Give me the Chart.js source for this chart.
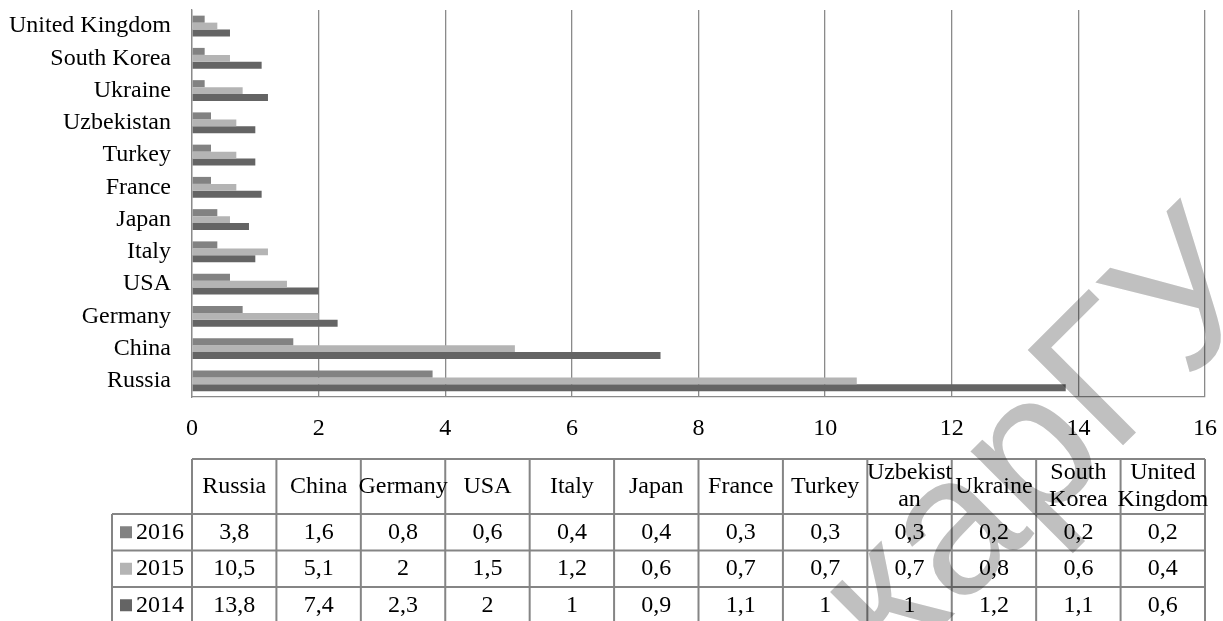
<!DOCTYPE html>
<html>
<head>
<meta charset="utf-8">
<script src="https://cdn.jsdelivr.net/npm/chart.js@4.4.0/dist/chart.umd.min.js"></script>
<style>
  html, body { margin: 0; padding: 0; background: #fff; }
  #wrap { width: 1223px; height: 621px; }
</style>
</head>
<body>
<div id="wrap"><canvas id="myChart"></canvas></div>
<script>
// data
const countries = ["Russia", "China", "Germany", "USA", "Italy", "Japan", "France", "Turkey", "Uzbekistan", "Ukraine", "South Korea", "United Kingdom"];
const years = ["2016", "2015", "2014"];
const values2016 = [3.8, 1.6, 0.8, 0.6, 0.4, 0.4, 0.3, 0.3, 0.3, 0.2, 0.2, 0.2];
const values2015 = [10.5, 5.1, 2, 1.5, 1.2, 0.6, 0.7, 0.7, 0.7, 0.8, 0.6, 0.4];
const values2014 = [13.8, 7.4, 2.3, 2, 1, 0.9, 1.1, 1, 1, 1.2, 1.1, 0.6];
const xTicks = [0, 2, 4, 6, 8, 10, 12, 14, 16];
const watermark = "карГУ";

const seriesValues = [values2016, values2015, values2014];
const barColors = ["#828282", "#b4b4b4", "#646464"];
const serif = '"Liberation Serif", "Times New Roman", serif';
const lineGrey = "#8a8a8a";

const fmt = (v) => String(v).replace(".", ",");

// wrap a header label into the column, breaking long words by letters like Excel does
const wrapText = (ctx, text, maxW) => {
  const lines = [];
  let line = "";
  text.split(" ").forEach((word) => {
    const test = line ? line + " " + word : word;
    if (ctx.measureText(test).width <= maxW) {
      line = test;
      return;
    }
    if (line) lines.push(line);
    line = "";
    let chunk = "";
    for (const ch of word) {
      if (ctx.measureText(chunk + ch).width > maxW && chunk) {
        lines.push(chunk);
        chunk = ch;
      } else {
        chunk += ch;
      }
    }
    line = chunk;
  });
  if (line) lines.push(line);
  return lines;
};

const dataTable = {
  id: "dataTable",
  afterDraw(chart) {
    const { ctx, chartArea } = chart;
    const left = chartArea.left;
    const right = chartArea.right;
    const colW = (right - left) / countries.length;
    const top = 459;
    const headBottom = 514;
    const rowH = 36.5;
    const labelLeft = 112;
    const bottom = chart.height;

    ctx.save();
    ctx.strokeStyle = "#858585";
    ctx.lineWidth = 2;
    ctx.beginPath();
    ctx.moveTo(left, top);
    ctx.lineTo(right, top);
    for (let i = 0; i < years.length; i++) {
      const y = headBottom + i * rowH;
      ctx.moveTo(labelLeft, y);
      ctx.lineTo(right, y);
    }
    for (let j = 0; j <= countries.length; j++) {
      const x = left + j * colW;
      ctx.moveTo(x, top);
      ctx.lineTo(x, bottom);
    }
    ctx.moveTo(labelLeft, headBottom);
    ctx.lineTo(labelLeft, bottom);
    ctx.stroke();

    ctx.fillStyle = "#000";
    ctx.font = "24px " + serif;
    ctx.textAlign = "center";
    ctx.textBaseline = "middle";
    const headMid = (top + headBottom) / 2;
    countries.forEach((name, j) => {
      const cx = left + (j + 0.5) * colW;
      const lines = wrapText(ctx, name, colW + 8);
      const lh = 27;
      lines.forEach((ln, k) => {
        ctx.fillText(ln, cx, headMid + (k - (lines.length - 1) / 2) * lh);
      });
    });

    years.forEach((yr, i) => {
      const cy = headBottom + i * rowH + rowH / 2;
      ctx.fillStyle = barColors[i];
      ctx.fillRect(120, cy - 6, 12, 12);
      ctx.fillStyle = "#000";
      ctx.textAlign = "left";
      ctx.fillText(yr, 136, cy);
      ctx.textAlign = "center";
      seriesValues[i].forEach((v, j) => {
        ctx.fillText(fmt(v), left + (j + 0.5) * colW, cy);
      });
    });
    ctx.restore();

    // watermark across the lower right, "Г" corner pinned to where it sits in the scan
    const fs = 196;
    const th = (-45 * Math.PI) / 180;
    const cs = Math.cos(th), sn = Math.sin(th);
    ctx.save();
    ctx.font = fs + 'px "Liberation Sans", Arial, sans-serif';
    const px = ctx.measureText(watermark.slice(0, 3)).width + 0.075 * fs;
    const py = -0.716 * fs;
    const ox = 1023 - (cs * px - sn * py);
    const oy = 347 - (sn * px + cs * py);
    ctx.globalCompositeOperation = "multiply";
    ctx.fillStyle = "#c0c0c0";
    ctx.translate(ox, oy);
    ctx.rotate(th);
    ctx.textAlign = "left";
    ctx.textBaseline = "alphabetic";
    ctx.fillText(watermark, 0, 0);
    ctx.restore();
  },
};

new Chart(document.getElementById("myChart"), {
  type: "bar",
  data: {
    labels: countries,
    datasets: years.map((yr, i) => ({
      label: yr,
      data: seriesValues[i],
      backgroundColor: barColors[i],
      borderWidth: 0,
      categoryPercentage: 0.65,
      barPercentage: 1,
    })),
  },
  options: {
    indexAxis: "y",
    responsive: true,
    maintainAspectRatio: false,
    animation: false,
    layout: {
      padding: { top: 10, right: 18, left: 0, bottom: 0 },
    },
    scales: {
      x: {
        min: 0,
        max: 16,
        afterBuildTicks: (scale) => {
          scale.ticks = xTicks.map((v) => ({ value: v }));
        },
        afterFit: (scale) => {
          scale.height = 224;
          scale.paddingLeft = 0;
          scale.paddingRight = 0;
        },
        ticks: {
          padding: 17,
          color: "#000",
          maxRotation: 0,
          font: { family: serif, size: 24 },
        },
        grid: {
          color: lineGrey,
          lineWidth: 1.3,
          drawTicks: false,
        },
        border: { color: lineGrey, width: 1.3 },
      },
      y: {
        reverse: true,
        afterFit: (scale) => {
          scale.width = 192;
          scale.paddingTop = 0;
          scale.paddingBottom = 0;
        },
        ticks: {
          padding: 21,
          color: "#000",
          font: { family: serif, size: 24 },
        },
        grid: { display: false, drawTicks: false },
        border: { color: lineGrey, width: 1.3 },
      },
    },
    plugins: {
      legend: { display: false },
      tooltip: { enabled: false },
    },
  },
  plugins: [dataTable],
});
</script>
</body>
</html>
